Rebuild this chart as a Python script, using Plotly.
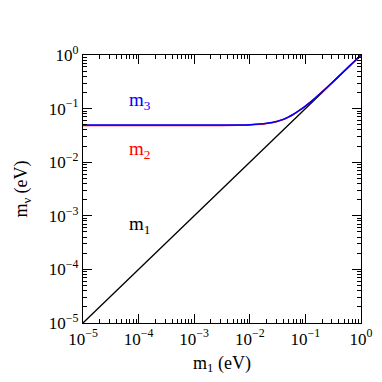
import plotly.graph_objects as go

# lightest mass (eV) sampled along the curves
m_light = [1e-5, 1e-4, 1e-3, 3e-3, 6e-3, 1e-2, 1.5e-2, 2e-2, 3e-2, 4e-2, 5e-2, 6e-2, 7e-2, 8e-2,
           0.1, 0.12, 0.15, 0.2, 0.3, 0.5, 0.7, 1.0]
m1_vals = [1e-5, 1e-4, 1e-3, 3e-3, 6e-3, 1e-2, 1.5e-2, 2e-2, 3e-2, 4e-2, 5e-2, 6e-2, 7e-2, 8e-2,
           0.1, 0.12, 0.15, 0.2, 0.3, 0.5, 0.7, 1.0]
m2_vals = [0.0485, 0.0485, 0.0485, 0.0486, 0.0489, 0.0495, 0.0508, 0.0525, 0.0570, 0.0625, 0.0697,
           0.0772, 0.0858, 0.0943, 0.1112, 0.1294, 0.1576, 0.2058, 0.3039, 0.5023, 0.7017, 1.0012]
m3_vals = [0.0492, 0.0492, 0.0492, 0.0493, 0.0496, 0.0502, 0.0514, 0.0531, 0.0576, 0.0630, 0.0701,
           0.0776, 0.0861, 0.0946, 0.1115, 0.1297, 0.1578, 0.2060, 0.3040, 0.5024, 0.7017, 1.0012]

tick_vals = [1e-5, 1e-4, 1e-3, 1e-2, 1e-1, 1]
tick_text = ["10<sup>\u22125</sup>", "10<sup>\u22124</sup>", "10<sup>\u22123</sup>",
             "10<sup>\u22122</sup>", "10<sup>\u22121</sup>", "10<sup>0</sup>"]
minor_vals = [k * 10 ** e for e in range(-5, 0) for k in range(2, 10)]

serif = "Liberation Serif"

fig = go.Figure()
fig.add_trace(go.Scatter(x=m_light, y=m1_vals, mode='lines', line=dict(color='black', width=1.3)))
fig.add_trace(go.Scatter(x=m_light, y=m2_vals, mode='lines', line=dict(color='red', width=1.5, shape='spline')))
fig.add_trace(go.Scatter(x=m_light, y=m3_vals, mode='lines', line=dict(color='blue', width=1.5, shape='spline')))
# invisible trace carrying the minor-tick axes
fig.add_trace(go.Scatter(x=m_light, y=m1_vals, mode='lines', line=dict(width=0), opacity=0,
                         xaxis='x2', yaxis='y2', hoverinfo='skip'))

# curve labels
fig.add_annotation(x=-3.98, y=-0.86, text="m<sub>3</sub>", showarrow=False,
                   font=dict(family=serif, size=19, color='blue'))
fig.add_annotation(x=-3.98, y=-1.77, text="m<sub>2</sub>", showarrow=False,
                   font=dict(family=serif, size=19, color='red'))
fig.add_annotation(x=-3.98, y=-3.17, text="m<sub>1</sub>", showarrow=False,
                   font=dict(family=serif, size=19, color='black'))

axis_style = dict(
    type='log', showgrid=False, zeroline=False, automargin=False,
    showline=True, linecolor='black', linewidth=1.3, mirror='allticks',
    ticks='inside', ticklen=9, tickcolor='black', tickwidth=1,
    tickvals=tick_vals, ticktext=tick_text,
    tickfont=dict(family=serif, size=17, color='black'),
)
minor_style = dict(
    type='log', range=[-5, 0], showgrid=False, zeroline=False, automargin=False,
    showline=False, mirror='allticks', ticks='inside', ticklen=4, tickcolor='black', tickwidth=1,
    tickvals=minor_vals, showticklabels=False,
)

fig.update_layout(
    width=382, height=382,
    margin=dict(l=83, r=21, t=55, b=59, autoexpand=False),
    plot_bgcolor='white', paper_bgcolor='white',
    showlegend=False,
    xaxis=dict(axis_style, range=[-5, 0],
               title=dict(text="m<sub>1</sub> (eV)", font=dict(family=serif, size=18, color='black'), standoff=8)),
    yaxis=dict(axis_style, range=[-5, 0],
               title=dict(text="m<sub>\u03bd</sub> (eV)", font=dict(family=serif, size=18, color='black'), standoff=16)),
    xaxis2=dict(minor_style, overlaying='x'),
    yaxis2=dict(minor_style, overlaying='y'),
)

# drop the default page margin so the figure sits at the window origin
fig.write_html("out.html", config={'displayModeBar': False},
               post_script="document.body.style.margin='0';")
